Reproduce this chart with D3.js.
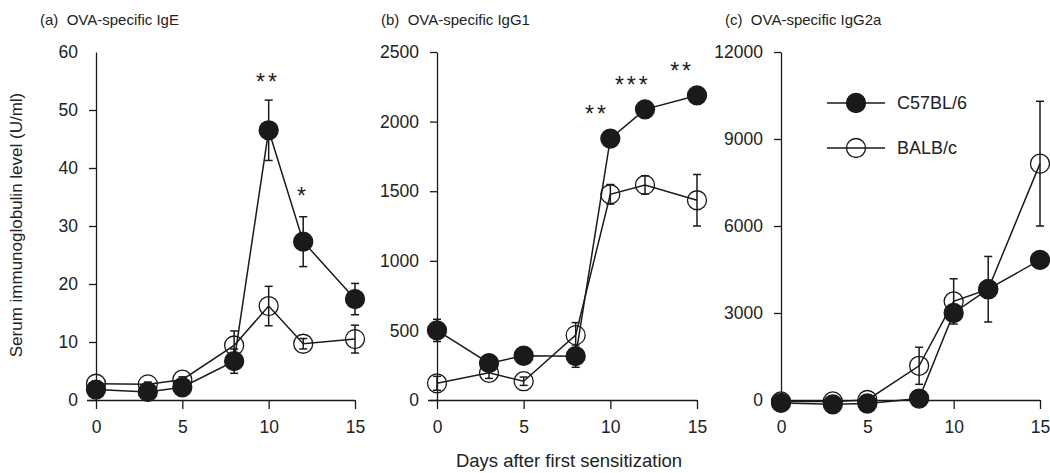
<!DOCTYPE html>
<html>
<head>
<meta charset="utf-8">
<script src="https://cdn.jsdelivr.net/npm/d3@7"></script>
<style>
  body { margin: 0; background: #fff; }
  text { font-family: "Liberation Sans", Arial, sans-serif; fill: #222; }
</style>
</head>
<body>
<div id="chart"></div>
<script>
//////////////////////////////////////////////
// Data //////////////////////////////////////
//////////////////////////////////////////////
var days = [0, 3, 5, 8, 10, 12, 15];
var xTicks = [0, 5, 10, 15];

// (a) IgE, U/ml
var igeC57 = [1.8, 1.4, 2.2, 6.7, 46.5, 27.3, 17.4];
var igeC57Err = [0.5, 0.3, 0.6, 2.1, 5.2, 4.3, 2.7];
var igeBalb = [2.8, 2.7, 3.5, 9.4, 16.2, 9.7, 10.5];
var igeBalbErr = [0.5, 0.4, 0.5, 2.5, 3.4, 0.9, 2.4];
var igeTicks = [0, 10, 20, 30, 40, 50, 60];

// (b) IgG1
var igg1C57 = [500, 265, 318, 315, 1878, 2088, 2188];
var igg1C57Err = [80, 30, 30, 80, 40, 30, 40];
var igg1Balb = [120, 195, 135, 466, 1478, 1545, 1435];
var igg1BalbErr = [50, 40, 30, 90, 70, 65, 185];
var igg1Ticks = [0, 500, 1000, 1500, 2000, 2500];

// (c) IgG2a
var igg2aC57 = [-100, -150, -120, 50, 3000, 3820, 4830];
var igg2aC57Err = [50, 50, 50, 50, 200, 1130, 150];
var igg2aBalb = [-50, -50, 0, 1180, 3400, 3820, 8150];
var igg2aBalbErr = [50, 50, 50, 640, 780, 200, 2150];
var igg2aTicks = [0, 3000, 6000, 9000, 12000];

// significance marks: [day, value, label]
var igeStars = [[9.96, 55.5, "**"], [11.99, 35.9, "*"]];
var igg1Stars = [[9.23, 2083, "**"], [11.3, 2292, "***"], [14.14, 2392, "**"]];
var igg2aStars = [];

var seriesNames = ["C57BL/6", "BALB/c"];
var titles = ["(a)  OVA-specific IgE", "(b)  OVA-specific IgG1", "(c)  OVA-specific IgG2a"];

//////////////////////////////////////////////
// Chart Config /////////////////////////////
//////////////////////////////////////////////
var width = 1050, height = 473;
var plotTop = 52, plotBottom = 400;
var ink = "#1a1a1a";
var r = 9.5;

var svg = d3.select("#chart").append("svg")
    .attr("width", width)
    .attr("height", height);

var panels = [
  {left: 96, right: 355, ticks: igeTicks, c57: igeC57, c57Err: igeC57Err, balb: igeBalb, balbErr: igeBalbErr, stars: igeStars, hideTop: true},
  {left: 437, right: 697, ticks: igg1Ticks, c57: igg1C57, c57Err: igg1C57Err, balb: igg1Balb, balbErr: igg1BalbErr, stars: igg1Stars},
  {left: 781, right: 1040, ticks: igg2aTicks, c57: igg2aC57, c57Err: igg2aC57Err, balb: igg2aBalb, balbErr: igg2aBalbErr, stars: igg2aStars}
];

//////////////////////////////////////////////
// Drawing ///////////////////////////////////
//////////////////////////////////////////////
function drawPanel(p, i) {
  var x = d3.scaleLinear().domain([0, 15]).range([p.left, p.right]);
  var y = d3.scaleLinear().domain([0, d3.max(p.ticks)]).range([plotBottom, plotTop]);

  var g = svg.append("g");

  // title
  g.append("text")
    .attr("x", p.left - 56)
    .attr("y", 25)
    .style("font-size", "15px")
    .style("white-space", "pre")
    .text(titles[i]);

  // y axis
  var yAxis = d3.axisLeft(y).tickValues(p.ticks).tickFormat(d3.format("d"))
    .tickSize(7).tickPadding(11).tickSizeOuter(0);
  var yEl = g.append("g")
    .attr("transform", "translate(" + p.left + ",0)")
    .call(yAxis);
  if (p.hideTop) yEl.selectAll(".tick line").filter(function(d) { return d == d3.max(p.ticks); }).remove();

  // x axis
  var xAxis = d3.axisBottom(x).tickValues(xTicks).tickSize(9).tickPadding(12).tickSizeOuter(0);
  var xEl = g.append("g")
    .attr("transform", "translate(0," + plotBottom + ")")
    .call(xAxis);
  xEl.select(".domain").attr("d", "M" + (p.left - 9) + ",0.5H" + p.right);

  g.selectAll(".tick text").style("font-size", "17.5px").attr("fill", "#222");
  g.selectAll(".domain, .tick line").attr("stroke", ink).attr("stroke-width", 1.3);

  var line = d3.line()
    .x(function(d, j) { return x(days[j]); })
    .y(function(d) { return y(d); });

  // series: BALB/c first, then C57BL/6 on top
  [[p.balb, p.balbErr, false], [p.c57, p.c57Err, true]].forEach(function(s) {
    var vals = s[0], errs = s[1], filled = s[2];

    g.append("path").datum(vals)
      .attr("d", line)
      .attr("fill", "none")
      .attr("stroke", ink)
      .attr("stroke-width", 1.5);

    var eb = g.append("g").selectAll("g").data(vals).enter().append("g")
      .attr("stroke", ink)
      .attr("stroke-width", 1.5);
    eb.append("line")
      .attr("x1", function(d, j) { return x(days[j]); })
      .attr("x2", function(d, j) { return x(days[j]); })
      .attr("y1", function(d, j) { return y(d - errs[j]); })
      .attr("y2", function(d, j) { return y(d + errs[j]); });
    eb.append("line")
      .attr("x1", function(d, j) { return x(days[j]) - 4; })
      .attr("x2", function(d, j) { return x(days[j]) + 4; })
      .attr("y1", function(d, j) { return y(d + errs[j]); })
      .attr("y2", function(d, j) { return y(d + errs[j]); });
    eb.append("line")
      .attr("x1", function(d, j) { return x(days[j]) - 4; })
      .attr("x2", function(d, j) { return x(days[j]) + 4; })
      .attr("y1", function(d, j) { return y(d - errs[j]); })
      .attr("y2", function(d, j) { return y(d - errs[j]); });

    g.append("g").selectAll("circle").data(vals).enter().append("circle")
      .attr("cx", function(d, j) { return x(days[j]); })
      .attr("cy", function(d) { return y(d); })
      .attr("r", r)
      .attr("fill", filled ? ink : "none")
      .attr("stroke", ink)
      .attr("stroke-width", 1.3);
  });

  // stars
  g.selectAll(".star").data(p.stars).enter().append("text")
    .attr("class", "star")
    .attr("x", function(d) { return x(d[0]); })
    .attr("y", function(d) { return y(d[1]) + 12; })
    .attr("text-anchor", "middle")
    .style("font-size", "23px")
    .style("letter-spacing", "3px")
    .text(function(d) { return d[2]; });
}

panels.forEach(drawPanel);

// legend (in panel c)
var legend = svg.append("g").attr("transform", "translate(827,103)");
seriesNames.forEach(function(name, i) {
  var row = legend.append("g").attr("transform", "translate(0," + (i * 45) + ")");
  row.append("line").attr("x1", 0).attr("x2", 58).attr("y1", 0).attr("y2", 0)
    .attr("stroke", ink).attr("stroke-width", 1.5);
  row.append("circle").attr("cx", 29).attr("cy", 0).attr("r", r)
    .attr("fill", i == 0 ? ink : "none")
    .attr("stroke", ink).attr("stroke-width", 1.3);
  row.append("text").attr("x", 70).attr("y", 6)
    .style("font-size", "18px")
    .text(name);
});

// shared axis titles
svg.append("text")
  .attr("transform", "translate(22,225) rotate(-90)")
  .attr("text-anchor", "middle")
  .style("font-size", "17px")
  .text("Serum immunoglobulin level (U/ml)");

svg.append("text")
  .attr("x", 569)
  .attr("y", 467)
  .attr("text-anchor", "middle")
  .style("font-size", "18.5px")
  .text("Days after first sensitization");
</script>
</body>
</html>
